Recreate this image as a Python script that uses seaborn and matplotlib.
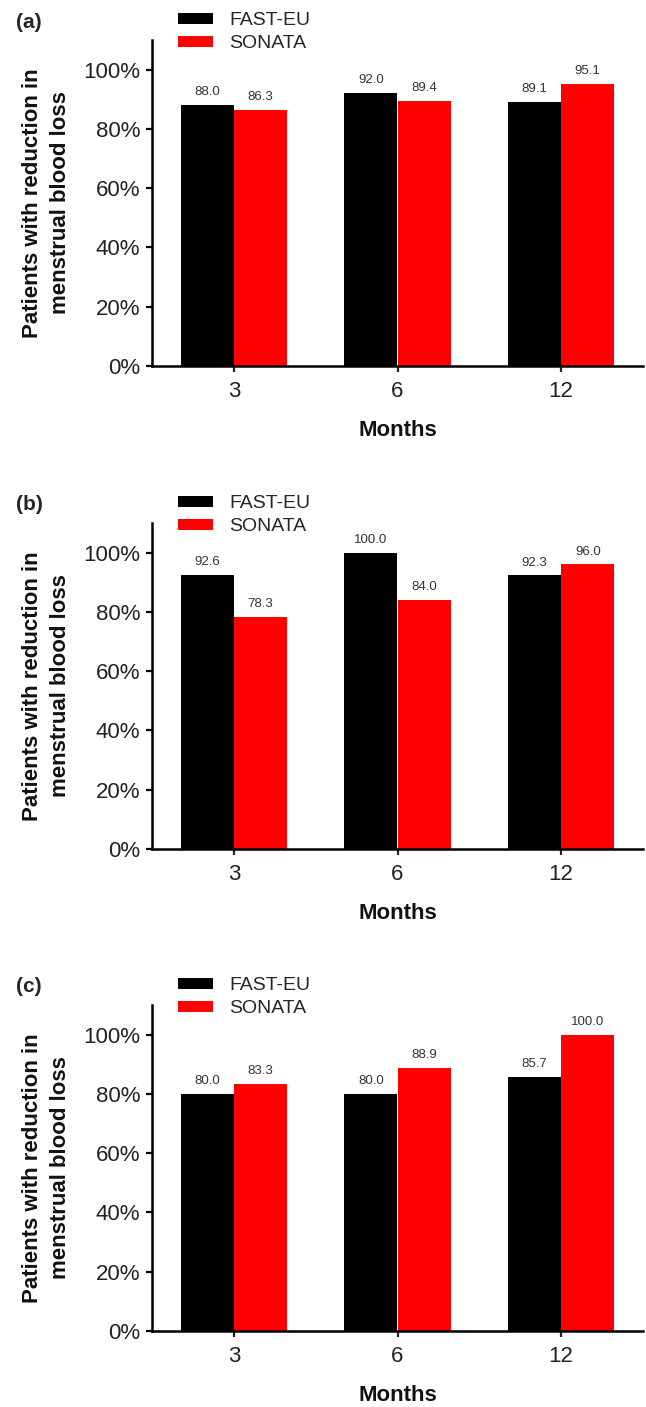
import pandas as pd
import matplotlib.pyplot as plt
import matplotlib.ticker as mtick
import seaborn as sns

# data
months = ["3", "6", "12"]
studies = ["FAST-EU", "SONATA"]
panel_labels = ["(a)", "(b)", "(c)"]
fast_eu_a = [88.0, 92.0, 89.1]
sonata_a = [86.3, 89.4, 95.1]
fast_eu_b = [92.6, 100.0, 92.3]
sonata_b = [78.3, 84.0, 96.0]
fast_eu_c = [80.0, 80.0, 85.7]
sonata_c = [83.3, 88.9, 100.0]

panels = [(fast_eu_a, sonata_a), (fast_eu_b, sonata_b), (fast_eu_c, sonata_c)]

# style
sns.set_style("ticks")
plt.rcParams["font.family"] = ["Liberation Sans", "DejaVu Sans"]

fig = plt.figure(figsize=(6.46, 14.07), dpi=100)

# axes bottoms in pixels (0% line) for each panel
zero_lines = [366, 849, 1331]
W, H = 646, 1407
left, right = 152, 643
height = 326

for i, (fe, so) in enumerate(panels):
    df = pd.DataFrame({
        "Months": months * 2,
        "Study": [studies[0]] * 3 + [studies[1]] * 3,
        "Value": fe + so,
    })
    bottom = zero_lines[i]
    ax = fig.add_axes([left / W, 1 - bottom / H, (right - left) / W, height / H])
    sns.barplot(data=df, x="Months", y="Value", hue="Study", order=months,
                hue_order=studies, palette=["#000000", "#ff0000"],
                width=0.65, saturation=1, linewidth=0, ax=ax)

    # value labels above bars
    for cont in ax.containers:
        ax.bar_label(cont, fmt="%.1f", padding=5, fontsize=9.5, color="#333333")

    ax.set_ylim(0, 110)
    ax.set_xlim(-0.5, 2.5)
    ax.set_yticks([0, 20, 40, 60, 80, 100])
    ax.yaxis.set_major_formatter(mtick.PercentFormatter(decimals=0))
    ax.tick_params(axis="y", labelsize=16, length=4.5, width=1.6, pad=4, colors="#000000", labelcolor="#222222")
    ax.tick_params(axis="x", labelsize=16, length=4.5, width=1.6, pad=6, labelcolor="#222222")
    sns.despine(ax=ax)
    for s in ["left", "bottom"]:
        ax.spines[s].set_linewidth(1.8)
        ax.spines[s].set_color("black")

    ax.set_xlabel("Months", fontsize=16, fontweight="bold", labelpad=13, color="#111111")
    ax.set_ylabel("Patients with reduction in\nmenstrual blood loss", fontsize=16,
                  fontweight="bold", labelpad=9, linespacing=1.4, color="#111111")

    # legend above the axes
    ax.legend(loc="upper left", bbox_to_anchor=(0.053, 1.085), frameon=False,
              fontsize=14, handlelength=1.8, handleheight=0.5, handletextpad=0.85,
              labelspacing=0.3, borderpad=0, borderaxespad=0)

    # panel letter
    fig.text(16 / W, 1 - (bottom - height - 18) / H, panel_labels[i],
             fontsize=15, fontweight="bold", va="center", ha="left")

plt.savefig("out.png", dpi=100)
